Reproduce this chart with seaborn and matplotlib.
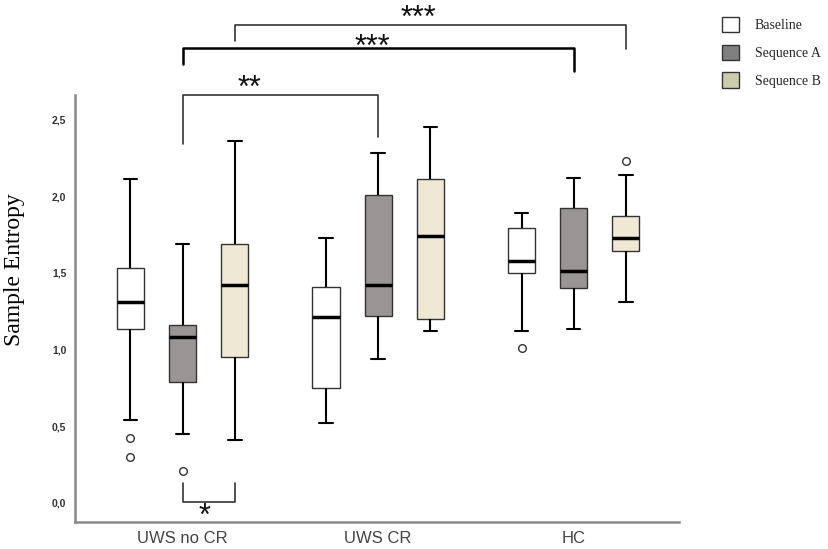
import matplotlib
matplotlib.use("Agg")
import matplotlib.pyplot as plt
from matplotlib.patches import Patch
import seaborn as sns
import pandas as pd

# Gruplar ve koşullar
groups = ["UWS no CR", "UWS CR", "HC"]
conditions = ["Baseline", "Sequence A", "Sequence B"]

# Kutu grafiği özetleri (satır = grup, sütun = koşul)
whisker_low = [[0.54, 0.45, 0.41], [0.52, 0.94, 1.12], [1.12, 1.13, 1.31]]
q1_vals = [[1.13, 0.79, 0.95], [0.75, 1.22, 1.20], [1.50, 1.40, 1.64]]
median_vals = [[1.31, 1.08, 1.42], [1.21, 1.42, 1.74], [1.58, 1.51, 1.73]]
q3_vals = [[1.53, 1.16, 1.69], [1.41, 2.01, 2.11], [1.79, 1.92, 1.87]]
whisker_high = [[2.11, 1.69, 2.36], [1.73, 2.28, 2.45], [1.89, 2.12, 2.14]]
outliers = [[[0.42, 0.30], [0.21], []], [[], [], []], [[1.01], [], [2.23]]]

y_ticks = [0.0, 0.5, 1.0, 1.5, 2.0, 2.5]
y_tick_labels = ["0,0", "0,5", "1,0", "1,5", "2,0", "2,5"]

box_colors = {"Baseline": "#ffffff", "Sequence A": "#9a9594", "Sequence B": "#efe8d4"}
legend_colors = {"Baseline": "#ffffff", "Sequence A": "#808080", "Sequence B": "#cdcbae"}


def summary_to_sample(lo, q1, med, q3, hi, fl):
    # np.percentile ile aynı çeyrekleri veren küçük bir örnek oluştur
    low_part = sorted([v for v in fl if v < lo]) + [lo]
    high_part = [hi] + sorted([v for v in fl if v > hi])
    return (low_part + [q1] * (8 - len(low_part)) + [med]
            + [q3] * (8 - len(high_part)) + high_part)


rows = []
for gi, g in enumerate(groups):
    for ci, c in enumerate(conditions):
        sample = summary_to_sample(whisker_low[gi][ci], q1_vals[gi][ci], median_vals[gi][ci],
                                   q3_vals[gi][ci], whisker_high[gi][ci], outliers[gi][ci])
        for v in sample:
            rows.append({"Group": g, "Condition": c, "Value": v})
df = pd.DataFrame(rows)

sns.set_style("white")
fig = plt.figure(figsize=(8.29, 5.49), dpi=100)
ax = fig.add_axes([0.0901, 0.0497, 0.7286, 0.7773])

box_width = 0.8
sns.boxplot(data=df, x="Group", y="Value", hue="Condition", order=groups, hue_order=conditions,
            palette=box_colors, saturation=1, width=box_width, gap=0.48, whis=1.5,
            linecolor="#333333", linewidth=1.0, legend=False, ax=ax,
            whiskerprops={"color": "black", "linewidth": 1.5},
            capprops={"color": "black", "linewidth": 1.5},
            medianprops={"color": "black", "linewidth": 2.5},
            flierprops={"marker": "o", "markersize": 5.5, "markerfacecolor": "white",
                        "markeredgecolor": "#333333", "markeredgewidth": 1.0})

ax.set_xlim(-0.552, 2.537)
ax.set_ylim(-0.124, 2.66)
ax.set_yticks(y_ticks)
ax.set_yticklabels(y_tick_labels, fontsize=7.5, fontweight="bold", color="#333333",
                   family="Liberation Sans")
ax.tick_params(axis="y", length=0, pad=6)
ax.tick_params(axis="x", length=0, pad=7)
for lab in ax.get_xticklabels():
    lab.set_fontsize(12)
    lab.set_family("Liberation Sans")
    lab.set_color("#444444")
ax.set_xlabel("")
ax.set_ylabel("Sample Entropy", fontsize=17, family="Liberation Serif", color="black")
ax.yaxis.set_label_coords(-0.082, 0.59)

for side in ["top", "right"]:
    ax.spines[side].set_visible(False)
for side in ["left", "bottom"]:
    ax.spines[side].set_color("#888888")
    ax.spines[side].set_linewidth(1.8)

# Anlamlılık parantezleri
hue_step = box_width / len(conditions)


def xpos(group, cond):
    return groups.index(group) + (conditions.index(cond) - 1) * hue_step


def bracket(g1, c1, g2, c2, y, y1, y2, color="#333333", lw=1.2):
    x1, x2 = xpos(g1, c1), xpos(g2, c2)
    ax.plot([x1, x1, x2, x2], [y1, y, y, y2], color=color, lw=lw, clip_on=False)


star_kw = dict(fontsize=22, ha="center", va="center", color="#111111",
               family="Liberation Sans", clip_on=False)

bracket("UWS no CR", "Sequence A", "UWS CR", "Sequence A", 2.657, 2.343, 2.386)
ax.text(0.344, 2.70, "**", **star_kw)

bracket("UWS no CR", "Sequence A", "HC", "Sequence A", 2.966, 2.864, 2.816, color="black", lw=1.8)
ax.text(0.972, 2.97, "***", **star_kw)

bracket("UWS no CR", "Sequence B", "HC", "Sequence B", 3.114, 3.01, 2.962)
ax.text(1.205, 3.155, "***", **star_kw)

bracket("UWS no CR", "Sequence A", "UWS no CR", "Sequence B", 0.007, 0.126, 0.126)
ax.text(0.114, -0.094, "*", **star_kw)

handles = [Patch(facecolor=legend_colors[c], edgecolor="#333333", linewidth=1.0, label=c)
           for c in conditions]
fig.legend(handles=handles, loc="upper left", bbox_to_anchor=(721.7 / 829, 1 - 17 / 549),
           frameon=False, borderpad=0, borderaxespad=0, handlelength=1.27, handleheight=1.3,
           handletextpad=1.1, labelspacing=0.9,
           prop={"family": "Liberation Serif", "size": 10})

plt.savefig("out.png", dpi=100)
plt.close()
